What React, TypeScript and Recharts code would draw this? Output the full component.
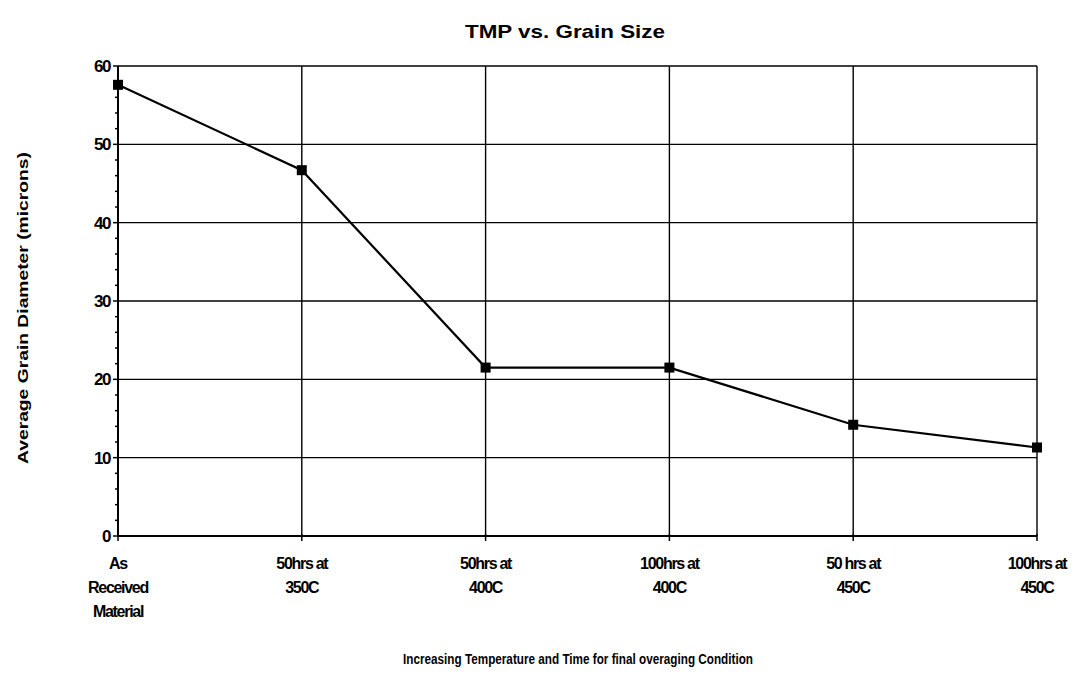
import React from "react";
import { LineChart, Line, XAxis, YAxis, CartesianGrid } from "recharts";

const categories = [
  "As\nReceived\nMaterial",
  "50hrs at\n350C",
  "50hrs at\n400C",
  "100hrs at\n400C",
  "50 hrs at\n450C",
  "100hrs at\n450C",
];
const grainDiameter = [57.6, 46.7, 21.5, 21.5, 14.2, 11.3];
const yTicks = [0, 2, 4, 6, 8, 10, 12, 14, 16, 18, 20, 22, 24, 26, 28, 30, 32, 34, 36, 38, 40, 42, 44, 46, 48, 50, 52, 54, 56, 58, 60];
const yMajor = [0, 10, 20, 30, 40, 50, 60];

const data = categories.map((c, i) => ({ cat: c, value: grainDiameter[i] }));

const FONT = "'Liberation Sans', Arial, sans-serif";

const YTick = (props: any) => {
  const { x, y, payload } = props;
  const major = payload.value % 10 === 0;
  return (
    <g>
      <line x1={x - (major ? 5 : 3)} x2={x} y1={y} y2={y} stroke="#000" strokeWidth={1.5} />
      {major && (
        <text x={x - 8} y={y} dy={6} textAnchor="end" fontFamily={FONT} fontSize={17} fontWeight="bold" letterSpacing={-1.4} fill="#000">
          {payload.value}
        </text>
      )}
    </g>
  );
};

const XTick = (props: any) => {
  const { x, y, payload } = props;
  const lines = String(payload.value).split("\n");
  return (
    <g>
      <line x1={x} x2={x} y1={y - 2} y2={y + 5} stroke="#000" strokeWidth={1.5} />
      {lines.map((l, i) => (
        <text key={i} x={x} y={y + 33 + i * 24} textAnchor="middle" fontFamily={FONT} fontSize={16} letterSpacing={-1.3} fill="#000" fontWeight="bold">
          {l}
        </text>
      ))}
    </g>
  );
};

const Square = (props: any) => {
  const { cx, cy } = props;
  return <rect x={cx - 5} y={cy - 5} width={10} height={10} fill="#000" />;
};

export default function App() {
  return (
    <div style={{ width: 1065, height: 663, background: "#fff" }}>
      <LineChart width={1065} height={663} data={data} margin={{ top: 58, right: 36, left: 50, bottom: 75 }}>
        <CartesianGrid stroke="#000" strokeWidth={1.4} horizontalValues={yMajor} />
        <XAxis
          dataKey="cat"
          scale="point"
          padding={{ left: 0, right: 0 }}
          height={60}
          tickLine={false}
          tickSize={0}
          tickMargin={0}
          tick={<XTick />}
          interval={0}
          axisLine={{ stroke: "#000", strokeWidth: 2 }}
        />
        <YAxis
          domain={[0, 60]}
          ticks={yTicks}
          interval={0}
          width={60}
          tickLine={false}
          tickSize={0}
          tickMargin={0}
          tick={<YTick />}
          axisLine={{ stroke: "#000", strokeWidth: 2 }}
        />
        <Line
          dataKey="value"
          stroke="#000"
          strokeWidth={2.2}
          dot={<Square />}
          activeDot={false}
          isAnimationActive={false}
        />
        <text x={557} y={30} textAnchor="middle" fontFamily={FONT} fontSize={19} fontWeight="bold" textLength={200} lengthAdjust="spacingAndGlyphs" fill="#000">
          TMP vs. Grain Size
        </text>
        <text
          x={0}
          y={0}
          transform="translate(20, 300) rotate(-90)"
          textAnchor="middle"
          fontFamily={FONT}
          fontSize={15}
          fontWeight="bold"
          textLength={312}
          lengthAdjust="spacingAndGlyphs"
          fill="#000"
        >
          Average Grain Diameter (microns)
        </text>
        <text x={570} y={656} textAnchor="middle" fontFamily={FONT} fontSize={14} fontWeight="bold" textLength={350} lengthAdjust="spacingAndGlyphs" fill="#000">
          Increasing Temperature and Time for final overaging Condition
        </text>
      </LineChart>
    </div>
  );
}
